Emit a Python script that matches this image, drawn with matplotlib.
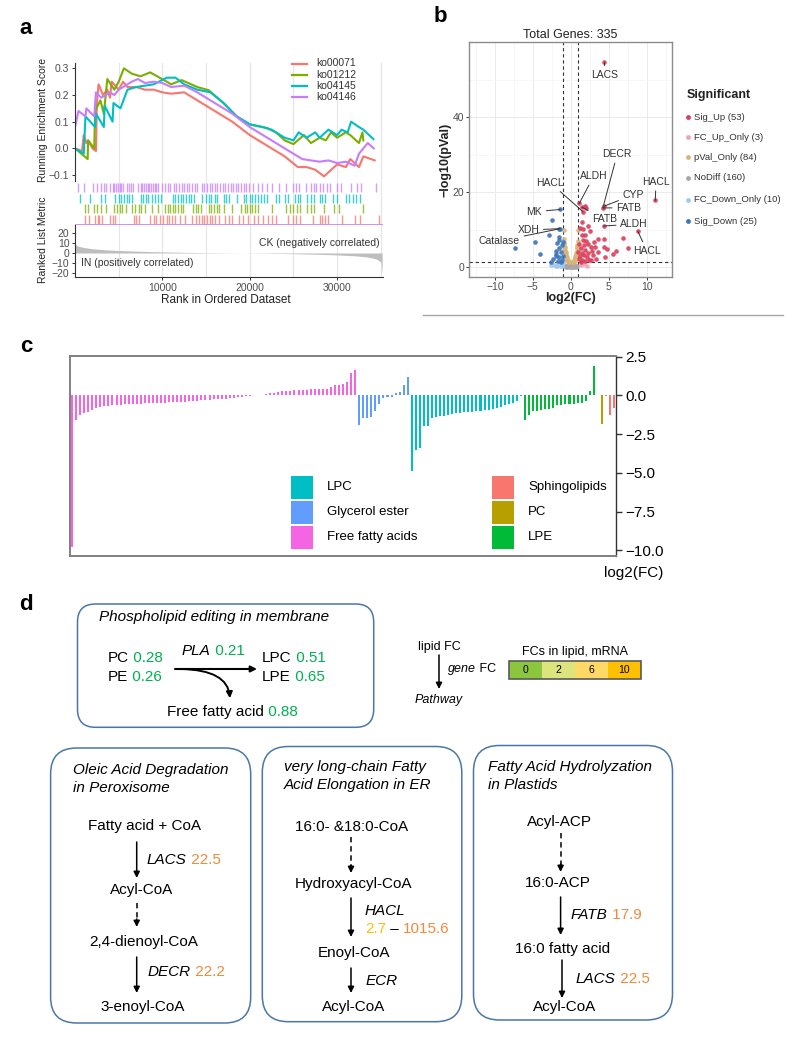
import matplotlib
matplotlib.use("Agg")
import matplotlib.pyplot as plt
from matplotlib.patches import FancyBboxPatch, Rectangle, FancyArrowPatch

plt.rcParams['font.family'] = ['Liberation Sans', 'DejaVu Sans']

# ---------------- panel a : GSEA running scores ----------------
gsea_ids = ['ko00071', 'ko01212', 'ko04145', 'ko04146']
gsea_colors = ['#F8766D', '#7CAE00', '#00BFC4', '#C77CFF']

rank_00071 = [0, 800, 1000, 1300, 1500, 2000, 2400, 2500, 2700, 3200, 3700, 4000, 4200, 5000, 5500,
              6000, 7000, 8000, 9000, 10000, 11000, 12500, 14000, 16000, 18000, 20000, 22000, 24000,
              25500, 26500, 27500, 28500, 29000, 30000, 31000, 31500, 32500, 33000, 34300]
es_00071 = [0.0, -0.01, 0.05, 0.02, 0.03, 0.0, -0.01, 0.17, 0.24, 0.2, 0.22, 0.19, 0.25, 0.22, 0.25,
            0.23, 0.23, 0.22, 0.22, 0.21, 0.205, 0.21, 0.18, 0.14, 0.1, 0.05, 0.01, -0.03,
            -0.07, -0.07, -0.08, -0.105, -0.09, -0.06, -0.07, -0.04, -0.07, -0.03, -0.045]

rank_01212 = [0, 1450, 1500, 2200, 2300, 2900, 3300, 3700, 4500, 5000, 5600, 6500, 7500, 8600, 10500,
              11000, 12200, 14000, 15300, 17000, 18500, 20000, 22000, 23000, 24000, 25000, 26200,
              27000, 28000, 28700, 29300, 30000, 31000, 31500, 32500, 32900, 33000]
es_01212 = [0.0, -0.04, 0.03, 0.0, 0.14, 0.18, 0.13, 0.26, 0.22, 0.25, 0.3, 0.28, 0.27, 0.285, 0.25,
            0.24, 0.256, 0.23, 0.218, 0.17, 0.12, 0.09, 0.076, 0.06, 0.03, 0.016, 0.05,
            0.02, 0.04, 0.03, 0.06, 0.04, 0.06, 0.05, 0.02, 0.06, 0.03]

rank_04145 = [0, 1000, 1200, 2300, 2400, 3300, 3400, 4300, 4400, 5200, 6000, 7000, 9000, 10500,
              11500, 12500, 14000, 15500, 17000, 18500, 20000, 21500, 22500, 24000, 25000, 25600,
              26500, 27500, 28000, 29000, 30000, 30500, 31200, 31600, 32500, 33000, 34150]
es_04145 = [0.0, -0.02, 0.12, 0.08, 0.13, 0.08, 0.16, 0.1, 0.17, 0.15, 0.22, 0.23, 0.24, 0.265,
            0.265, 0.24, 0.22, 0.21, 0.17, 0.12, 0.09, 0.08, 0.07, 0.04, 0.03, 0.06,
            0.04, 0.06, 0.04, 0.07, 0.05, 0.07, 0.06, 0.1, 0.08, 0.07, 0.035]

rank_04146 = [0, 400, 1200, 1300, 2200, 2400, 3000, 4000, 4500, 5000, 6500, 7200, 8000, 9000, 10000,
              11000, 12500, 14000, 16000, 18000, 20000, 22000, 24000, 25000, 26000, 27000, 28000,
              29000, 30000, 31000, 32000, 32500, 33000, 33500, 34200]
es_04146 = [0.08, 0.14, 0.12, 0.15, 0.12, 0.21, 0.19, 0.21, 0.2, 0.22, 0.25, 0.26, 0.245, 0.25, 0.245,
            0.23, 0.235, 0.21, 0.17, 0.13, 0.08, 0.04, 0.0, -0.02, -0.04, -0.045, -0.05,
            -0.045, -0.055, -0.05, -0.065, -0.02, 0.0, 0.02, 0.0]

# gene hit positions (thousands of ranks)
hits_04146 = [0.3, 1.0, 2.1, 2.5, 3.0, 3.3, 3.6, 4.0, 4.3, 4.5, 4.7, 4.9, 5.1, 5.3, 5.5, 6.0, 6.2, 6.4,
              6.6, 7.2, 7.5, 7.7, 7.9, 8.1, 8.3, 8.5, 8.7, 8.9, 9.1, 9.3, 9.5, 10.0, 10.3, 10.6, 10.9,
              11.3, 11.6, 11.9, 12.2, 12.5, 12.8, 13.1, 13.4, 13.7, 14.0, 14.5, 14.8, 15.1, 15.4, 15.7,
              16.0, 16.3, 16.6, 16.9, 17.2, 17.5, 17.8, 18.1, 18.4, 18.7, 19.0, 19.3, 19.6, 19.9, 20.4,
              20.9, 21.4, 22.0, 22.6, 23.4, 24.2, 25.0, 25.3, 25.6, 26.4, 27.0, 27.3, 27.6, 28.0, 28.4,
              28.8, 29.2, 30.0, 30.4, 31.6, 32.3, 32.7, 34.4]
hits_04145 = [0.6, 1.7, 3.0, 3.4, 4.6, 5.0, 5.3, 5.6, 5.9, 6.2, 6.5, 7.5, 7.8, 8.1, 8.4, 8.8, 9.2, 9.5,
              9.8, 11.2, 11.5, 11.8, 12.1, 12.4, 12.7, 13.0, 13.3, 13.6, 14.5, 15.0, 15.3, 15.6, 16.0,
              16.3, 17.0, 17.3, 17.6, 18.5, 19.3, 19.6, 20.0, 20.3, 20.6, 21.0, 21.3, 21.6, 22.0, 23.0,
              23.4, 24.0, 24.4, 25.2, 25.5, 25.8, 26.6, 27.0, 27.3, 28.0, 28.3, 28.6, 29.5, 30.0, 31.0,
              31.4, 31.8, 32.2, 32.6]
hits_01212 = [1.2, 1.5, 2.2, 2.5, 3.0, 3.5, 4.5, 4.8, 5.1, 5.4, 5.8, 6.5, 6.9, 7.3, 7.6, 8.0, 8.8, 9.5,
              10.3, 10.6, 10.9, 11.2, 11.5, 11.8, 12.1, 12.4, 13.5, 13.8, 14.1, 14.4, 15.3, 15.6, 15.9,
              16.2, 16.5, 17.0, 18.0, 19.0, 19.4, 19.7, 20.0, 20.3, 20.6, 21.0, 22.6, 24.2, 24.6, 25.0,
              25.4, 25.8, 26.6, 27.0, 27.3, 28.5, 29.6, 30.2, 33.0]
hits_00071 = [1.1, 1.6, 2.3, 2.6, 2.8, 3.1, 4.0, 4.3, 4.6, 6.7, 7.0, 7.3, 8.6, 9.0, 9.3, 9.7, 10.1, 10.5,
              10.8, 11.1, 11.4, 12.0, 12.6, 13.4, 13.8, 14.2, 14.5, 14.8, 15.1, 15.4, 15.7, 16.0, 16.5,
              17.2, 17.6, 18.0, 18.8, 19.2, 19.8, 20.5, 21.0, 21.5, 22.1, 22.5, 23.0, 24.4, 25.0, 25.3,
              25.7, 27.2, 28.0, 28.3, 28.6, 29.0, 30.6, 32.1, 32.6, 34.8]

metric_rank = [0, 300, 1000, 2000, 3500, 5000, 7500, 10000, 13000, 16000, 19000, 22000, 25000, 28000,
               30000, 32000, 33500, 34500, 35000, 35150]
metric_val = [9, 7, 5.5, 4.2, 3.2, 2.5, 1.7, 1.1, 0.6, 0.25, 0, -0.3, -0.7, -1.3,
              -1.9, -2.8, -4, -6, -9, -20]

# ---------------- panel b : volcano ----------------
sig_up_fc = [4.4, 11.1, 8.8, 4.3, 4.4, 4.2, 1.1, 1.6, 1.45, 1.8, 2.0,
             1.2, 1.4, 1.9, 1.6, 1.1, 1.7, 2.0, 1.3, 1.9, 1.5, 2.3, 1.2, 1.7, 2.1, 1.1, 1.4, 1.8, 2.4, 1.3,
             3.6, 4.4, 6.8, 2.7, 3.2, 4.4, 4.8, 3.6, 5.5, 7.5, 4.5, 2.9, 3.3, 2.5, 3.0, 2.6, 1.6, 2.2,
             6.0, 1.0, 2.8, 1.5, 2.3]
sig_up_p = [54.6, 17.8, 9.6, 11.0, 16.3, 15.8, 17.0, 14.8, 16.0, 16.2, 15.7,
            10.5, 8.7, 8.7, 7.3, 6.2, 5.9, 7.0, 5.0, 4.6, 3.9, 3.9, 3.0, 3.3, 2.8, 2.1, 1.8, 1.6, 2.0, 1.4,
            7.6, 7.6, 7.8, 5.4, 5.4, 5.4, 4.8, 4.1, 3.6, 5.2, 2.7, 3.2, 2.3, 9.6, 6.6, 1.8, 10.2, 6.1,
            4.4, 4.0, 4.2, 12.0, 11.0]
sig_down_fc = [-1.4, -2.5, -1.4, -1.6, -2.9, -7.4, -4.7, -4.1, -1.5, -1.8, -1.2, -1.6, -2.0, -1.3, -1.9,
               -1.1, -1.5, -2.3, -1.2, -1.7, -2.6, -1.3, -2.0, -1.1, -1.6]
sig_down_p = [15.4, 12.5, 10.3, 10.2, 8.7, 5.1, 6.6, 3.5, 7.2, 6.5, 5.8, 5.0, 4.4, 4.0, 3.4,
              3.0, 2.6, 2.2, 2.0, 1.7, 1.5, 1.4, 2.9, 6.8, 8.0]
fc_down_fc = [-1.2, -1.5, -1.8, -2.2, -1.1, -1.4, -2.6, -1.7, -1.3, -2.0]
fc_down_p = [0.4, 0.8, 0.3, 0.6, 1.0, 0.2, 0.5, 1.1, 0.7, 0.2]
fc_up_fc = [1.3, 1.7, 2.1]
fc_up_p = [0.6, 0.9, 0.3]
pval_fc = [-0.95, -0.9, -0.85, -0.8, -0.75, -0.7, -0.65, -0.6, -0.55, -0.5, -0.45, -0.4, -0.35, -0.3,
           -0.9, -0.8, -0.7, -0.6, -0.5, -0.85, -0.95,
           0.95, 0.9, 0.85, 0.8, 0.75, 0.7, 0.65, 0.6, 0.55, 0.5, 0.45, 0.4, 0.35, 0.3,
           0.9, 0.8, 0.7, 0.6, 0.5, 0.85, -0.2, 0.2]
pval_p = [9.9, 7.5, 6.2, 5.3, 4.6, 4.0, 3.5, 3.0, 2.6, 2.3, 2.0, 1.8, 1.6, 1.45,
          5.0, 3.8, 3.1, 2.2, 1.7, 4.3, 6.8,
          9.9, 7.0, 6.0, 5.0, 4.4, 3.8, 3.3, 2.9, 2.5, 2.2, 1.9, 1.7, 1.5, 1.4,
          4.6, 3.6, 2.8, 2.1, 1.6, 5.4, 1.35, 1.35]
nodiff_fc = [-0.6, -0.5, -0.4, -0.3, -0.2, -0.1, 0.0, 0.1, 0.2, 0.3, 0.4, 0.5, 0.6, -0.5, -0.3, -0.1,
             0.1, 0.3, -0.2, 0.0, 0.2, -0.4, 0.4, -0.7, 0.7, -0.15, 0.15, -0.35, 0.35, 0.0, -0.05,
             0.05, -0.25, 0.25, 0.8, -0.8]
nodiff_p = [0.2, 0.4, 0.6, 0.8, 1.0, 1.2, 0.9, 1.1, 0.9, 0.7, 0.5, 0.3, 0.2, 0.1, 0.3, 0.5,
            0.4, 0.2, 0.2, 0.1, 0.3, 0.2, 0.1, 0.1, 0.1, 0.7, 0.6, 0.45, 0.4, 0.3, 0.05,
            0.2, 0.1, 0.05, 0.3, 0.4]
volcano_groups = ['Sig_Up (53)', 'FC_Up_Only (3)', 'pVal_Only (84)', 'NoDiff (160)',
                  'FC_Down_Only (10)', 'Sig_Down (25)']
volcano_colors = ['#DC3D5A', '#F2A3B5', '#D8B47A', '#A6A6A6', '#A3C8EC', '#3D75B9']
gene_names = ['LACS', 'HACL', 'HACL', 'ALDH', 'FATB', 'CYP', 'DECR', 'ALDH', 'HACL', 'FATB',
              'MK', 'XDH', 'Catalase']
gene_fc = [4.4, 11.1, 8.8, 4.3, 4.2, 4.4, 4.2, 1.1, 1.6, 1.45, -1.4, -1.4, -1.6]
gene_p = [54.6, 17.8, 9.6, 11.0, 15.8, 16.3, 15.8, 17.0, 14.8, 16.0, 15.4, 10.3, 10.2]

# ---------------- panel c : lipid log2(FC) ----------------
lipid_classes = ['Free fatty acids', 'Glycerol ester', 'LPC', 'LPE', 'PC', 'Sphingolipids']
lipid_colors = ['#F564E3', '#619CFF', '#00BFC4', '#00BA38', '#B79F00', '#F8766D']
fc_ffa = [-9.8, -1.6, -1.26, -1.11, -1.05, -0.94, -0.79, -0.73, -0.68, -0.66, -0.64, -0.62, -0.6, -0.58,
          -0.58, -0.56, -0.55, -0.54, -0.51, -0.51, -0.5, -0.49, -0.48, -0.47, -0.45, -0.45, -0.44,
          -0.43, -0.41, -0.38, -0.36, -0.34, -0.32, -0.3, -0.28, -0.26, -0.24, -0.22, -0.2, -0.17,
          -0.15, -0.11, -0.09, -0.04, -0.02, 0.01, 0.03, 0.06, 0.1, 0.13, 0.17, 0.23, 0.28, 0.3, 0.32,
          0.34, 0.35, 0.36, 0.38, 0.39, 0.4, 0.42, 0.43, 0.45, 0.53, 0.66, 0.68, 0.75, 0.88, 1.45, 1.62]
fc_glycerol = [-1.92, -1.47, -1.43, -1.39, -1.0, -0.58, -0.15, -0.12, -0.08, 0.17, 0.23, 0.66, 1.18]
fc_lpc = [-4.85, -3.55, -3.4, -2.0, -1.97, -1.47, -1.39, -1.35, -1.33, -1.28, -1.22, -1.16, -1.11, -1.09,
          -1.07, -1.05, -1.03, -1.0, -0.96, -0.92, -0.88, -0.79, -0.73, -0.64, -0.58, -0.51, -0.36, -0.06]
fc_lpe = [-1.58, -1.26, -1.0, -0.98, -0.96, -0.9, -0.85, -0.79, -0.64, -0.62, -0.58, -0.58, -0.53,
          -0.51, -0.49, -0.36, 0.32, 1.92]
fc_pc = [0.03, -1.82]
fc_sphingo = [-0.03, -1.25, -0.8]
legend_order = ['LPC', 'Glycerol ester', 'Free fatty acids', 'Sphingolipids', 'PC', 'LPE']

# ---------------- panel d : fold-change scale ----------------
scale_values = ['0', '2', '6', '10']
scale_colors = ['#8CC63F', '#DCE47E', '#FFD966', '#FFC000']

W, H = 794, 1042
fig = plt.figure(figsize=(W / 100, H / 100), dpi=100)


def px_axes(l, t, r, b):
    return fig.add_axes([l / W, 1 - b / H, (r - l) / W, (b - t) / H])


grey_txt = '#4D4D4D'
MINUS = '\u2212'

# ================= a =================
xmax_rank = 35250
ax_es = px_axes(75, 63, 383, 182)
curves = [(rank_00071, es_00071), (rank_01212, es_01212), (rank_04145, es_04145), (rank_04146, es_04146)]
for (rk, es), col in zip(curves, gsea_colors):
    ax_es.plot(rk, es, color=col, lw=1.5)
ax_es.set_xlim(0, xmax_rank)
ax_es.set_ylim(-0.126, 0.32)
ax_es.set_xticks([])
ax_es.set_yticks([-0.1, 0.0, 0.1, 0.2, 0.3])
ax_es.set_yticklabels([MINUS + '0.1', '0.0', '0.1', '0.2', '0.3'])

ax_hit = px_axes(75, 182, 383, 225)
hit_sets = [hits_00071, hits_01212, hits_04145, hits_04146]
for row, (hs, col) in enumerate(zip(hit_sets, gsea_colors)):
    ax_hit.vlines([h * 1000 for h in hs], row + 0.08, row + 0.92, color=col, lw=1.0, alpha=0.75)
ax_hit.axhline(0, color='#C77CFF', lw=1.2)
ax_hit.set_xlim(0, xmax_rank)
ax_hit.set_ylim(0, 4)
ax_hit.set_xticks([])
ax_hit.set_yticks([])

ax_rk = px_axes(75, 225, 383, 277)
ax_rk.fill_between(metric_rank, 0, metric_val, color='#BEBEBE', lw=0)
ax_rk.set_xlim(0, xmax_rank)
ax_rk.set_ylim(-24, 28)
ax_rk.set_yticks([-20, -10, 0, 10, 20])
ax_rk.set_yticklabels([MINUS + '20', MINUS + '10', '0', '10', '20'])
ax_rk.set_xticks([10000, 20000, 30000])
ax_rk.set_xticklabels(['10000', '20000', '30000'])
ax_rk.text(34900, 10, 'CK (negatively correlated)', ha='right', va='center', fontsize=7.5, color='#333333')
ax_rk.text(700, -10, 'IN (positively correlated)', ha='left', va='center', fontsize=7.5, color='#333333')

for a in (ax_es, ax_hit, ax_rk):
    for xv in range(5000, 35001, 5000):
        a.axvline(xv, color='#E5E5E5', lw=0.8, zorder=0)
    for s in a.spines.values():
        s.set_visible(False)
    a.tick_params(labelsize=7.5, labelcolor=grey_txt, color='#333333', length=2.5, width=0.7, pad=1.5)
for a in (ax_es, ax_rk):
    a.spines['left'].set_visible(True)
    a.spines['left'].set_color('#333333')
ax_rk.spines['bottom'].set_visible(True)
ax_rk.spines['bottom'].set_color('#333333')

# ================= b =================
ax_b = px_axes(469, 42, 672, 277)
ax_b.set_xlim(-13.4, 13.3)
ax_b.set_ylim(-2.6, 60.05)
ax_b.set_xticks([-10, -5, 0, 5, 10])
ax_b.set_xticklabels([MINUS + '10', MINUS + '5', '0', '5', '10'])
ax_b.set_yticks([0, 20, 40])
ax_b.set_xticks([-12.5, -7.5, -2.5, 2.5, 7.5, 12.5], minor=True)
ax_b.set_yticks([10, 30, 50], minor=True)
ax_b.grid(which='major', color='#EBEBEB', lw=0.7)
ax_b.grid(which='minor', color='#F4F4F4', lw=0.5)
ax_b.set_axisbelow(True)
ax_b.tick_params(which='both', labelsize=7.5, labelcolor=grey_txt, color='#333333', length=2.5, width=0.7, pad=1)
ax_b.tick_params(which='minor', length=0)
for s in ax_b.spines.values():
    s.set_color('#8C8C8C')
    s.set_linewidth(1.0)
pts = [(nodiff_fc, nodiff_p, 3), (pval_fc, pval_p, 2), (fc_down_fc, fc_down_p, 4),
       (fc_up_fc, fc_up_p, 1), (sig_down_fc, sig_down_p, 5), (sig_up_fc, sig_up_p, 0)]
for xs, ys, ci in pts:
    ax_b.scatter(xs, ys, s=11, color=volcano_colors[ci], lw=0, alpha=0.9, zorder=3)
for v in (-1, 1):
    ax_b.axvline(v, color='#333333', lw=0.8, ls=(0, (3, 2.5)), zorder=2)
ax_b.axhline(1.3, color='#333333', lw=0.8, ls=(0, (3, 2.5)), zorder=2)
label_at = [(4.5, 51.3), (11.2, 22.8), (10.0, 4.4), (8.3, 11.5), (7.6, 15.9), (8.2, 19.3), (6.1, 30.2),
            (3.0, 24.3), (-2.7, 22.5), (4.4, 12.9), (-4.8, 14.8), (-5.6, 9.9), (-9.4, 7.0)]
for name, gx, gy, lxy in zip(gene_names, gene_fc, gene_p, label_at):
    ax_b.annotate(name, xy=(gx, gy), xytext=lxy, ha='center', va='center', fontsize=7.5,
                  color='#333333', zorder=5,
                  arrowprops=dict(arrowstyle='-', color='#333333', lw=0.7, shrinkA=1, shrinkB=0))

# ================= c =================
ax_c = px_axes(70, 356, 616, 556)
groups = [fc_ffa, fc_glycerol, fc_lpc, fc_lpe, fc_pc, fc_sphingo]
pos = 1
for vals, col in zip(groups, lipid_colors):
    ax_c.bar(range(pos, pos + len(vals)), vals, width=0.5, color=col, lw=0)
    pos += len(vals)
ax_c.set_xlim(0.5, pos - 0.5)
ax_c.set_ylim(-10.37, 2.55)
ax_c.set_xticks([])
ax_c.yaxis.tick_right()
ax_c.set_yticks([2.5, 0, -2.5, -5, -7.5, -10])
ax_c.set_yticklabels(['2.5', '0.0', MINUS + '2.5', MINUS + '5.0', MINUS + '7.5', MINUS + '10.0'])
ax_c.tick_params(labelsize=11, color='#333333', length=4, width=1, pad=3)
for side in ('left', 'top', 'bottom'):
    ax_c.spines[side].set_color('#808080')
    ax_c.spines[side].set_linewidth(1.4)
ax_c.spines['right'].set_color('#333333')
ax_c.spines['right'].set_linewidth(1.0)

# ================= overlay (labels, legends, diagram d) =================
ov = fig.add_axes([0, 0, 1, 1], zorder=10)
ov.set_xlim(0, W)
ov.set_ylim(H, 0)
ov.axis('off')
ov.patch.set_alpha(0)

for lab, x, y in [('a', 26, 29), ('b', 440, 17), ('c', 26, 347), ('d', 26, 605)]:
    ov.text(x, y, lab, fontsize=16, fontweight='bold', ha='center', va='center')

# a labels + legend
ov.text(43, 120, 'Running Enrichment Score', rotation=90, ha='center', va='center', fontsize=7.5, color='#222222')
ov.text(43, 240, 'Ranked List Metric', rotation=90, ha='center', va='center', fontsize=7.5, color='#222222')
ov.text(226, 300, 'Rank in Ordered Dataset', ha='center', va='center', fontsize=8.5, color='#222222')
for i, (name, col) in enumerate(zip(gsea_ids, gsea_colors)):
    y = 63.5 + i * 11.1
    ov.plot([292, 307], [y, y], color=col, lw=1.6)
    ov.text(316, y, name, va='center', ha='left', fontsize=7.5, color='#333333')

# b labels + legend
ov.text(570.5, 35, 'Total Genes: 335', ha='center', va='center', fontsize=9, color='#222222')
ov.text(571, 298, 'log2(FC)', ha='center', va='center', fontsize=9, fontweight='bold', color='#222222')
ov.text(446, 160, MINUS + 'log10(pVal)', rotation=90, ha='center', va='center', fontsize=9,
        fontweight='bold', color='#222222')
ov.text(687, 95, 'Significant', ha='left', va='center', fontsize=9, fontweight='bold', color='#222222')
leg_y = [117, 137, 157, 178, 200, 221]
for name, col, y in zip(volcano_groups, volcano_colors, leg_y):
    ov.scatter([688], [y], s=12, color=col, lw=0)
    ov.text(694, y, name, ha='left', va='center', fontsize=6.8, color='#333333')
ov.plot([423, 783], [315, 315], color='#A6A6A6', lw=1.0)

# c legend
ov.text(634, 573, 'log2(FC)', ha='center', va='center', fontsize=11)
for i, name in enumerate(legend_order):
    col = lipid_colors[lipid_classes.index(name)]
    x0 = 291 if i < 3 else 492
    y0 = 476 + (i % 3) * 25
    ov.add_patch(Rectangle((x0, y0), 22, 22.5, color=col, lw=0))
    ov.text(x0 + 36, y0 + 11, name, ha='left', va='center', fontsize=9.5)

# d diagram
rend = fig.canvas.get_renderer()
GREEN, ORANGE, YELLOW = '#00B050', '#F08A3C', '#FFC000'
EDGE = '#4A77A8'


def seq(x, y, parts, size=11):
    for txt, col, sty in parts:
        t = ov.text(x, y, txt, color=col, fontsize=size, style=sty, ha='left', va='center')
        x += t.get_window_extent(renderer=rend).width


def arrow(x, y0, y1, dashed=False):
    if dashed:
        ov.plot([x, x], [y0, y1 - 7], color='k', lw=1.1, ls=(0, (3.5, 2.5)))
        y0 = y1 - 8
    ov.annotate('', xy=(x, y1), xytext=(x, y0),
                arrowprops=dict(arrowstyle='-|>', color='k', lw=1.1, shrinkA=0, shrinkB=0, mutation_scale=9))


def rbox(l, t, r, b, rad):
    ov.add_patch(FancyBboxPatch((l, t), r - l, b - t, boxstyle='round,pad=0,rounding_size=%d' % rad,
                                fc='none', ec=EDGE, lw=1.1))


rbox(77.5, 604, 373.7, 727.3, 18)
ov.text(99, 617, 'Phospholipid editing in membrane', style='italic', fontsize=11, ha='left', va='center')
seq(108, 658, [('PC', 'k', 'normal'), (' 0.28', GREEN, 'normal')])
seq(108, 677, [('PE', 'k', 'normal'), (' 0.26', GREEN, 'normal')])
seq(182, 651, [('PLA', 'k', 'italic'), (' 0.21', GREEN, 'normal')])
seq(262, 658, [('LPC', 'k', 'normal'), (' 0.51', GREEN, 'normal')])
seq(262, 677, [('LPE', 'k', 'normal'), (' 0.65', GREEN, 'normal')])
seq(167, 712, [('Free fatty acid', 'k', 'normal'), (' 0.88', GREEN, 'normal')])
ov.annotate('', xy=(257, 669), xytext=(175, 669),
            arrowprops=dict(arrowstyle='-|>', color='k', lw=1.5, shrinkA=0, shrinkB=0, mutation_scale=9))
ov.add_patch(FancyArrowPatch((178, 669), (230, 701), connectionstyle='angle3,angleA=0,angleB=90',
                             arrowstyle='-|>', mutation_scale=9, lw=1.4, color='k'))

# key
ov.text(418, 647, 'lipid FC', fontsize=9, ha='left', va='center')
arrow(439, 655, 689)
seq(448, 669, [('gene', 'k', 'italic'), (' FC', 'k', 'normal')], size=9)
ov.text(415, 700, 'Pathway', fontsize=9, style='italic', ha='left', va='center')
ov.text(575, 652, 'FCs in lipid, mRNA', fontsize=9, ha='center', va='center')
for i, (v, col) in enumerate(zip(scale_values, scale_colors)):
    ov.add_patch(Rectangle((509 + i * 33, 661), 33, 18, fc=col, ec='none'))
    ov.text(509 + i * 33 + 16.5, 670, v, fontsize=7.5, ha='center', va='center')
ov.add_patch(Rectangle((509, 661), 132, 18, fc='none', ec='#595959', lw=1.2))

# pathway boxes
rbox(50.6, 748, 250.7, 1023, 26)
rbox(262.3, 746.5, 461.8, 1021.7, 26)
rbox(473.5, 745.5, 672.5, 1020, 26)

ov.text(73.4, 770, 'Oleic Acid Degradation', style='italic', fontsize=11, ha='left', va='center')
ov.text(73.4, 788, 'in Peroxisome', style='italic', fontsize=11, ha='left', va='center')
ov.text(144.5, 826, 'Fatty acid + CoA', fontsize=11, ha='center', va='center')
arrow(136.7, 842, 878)
seq(147, 860, [('LACS', 'k', 'italic'), (' 22.5', ORANGE, 'normal')])
ov.text(142, 890, 'Acyl-CoA', fontsize=11, ha='center', va='center')
arrow(136.7, 903, 927, dashed=True)
ov.text(144, 941.7, '2,4-dienoyl-CoA', fontsize=11, ha='center', va='center')
arrow(136.7, 957, 993)
seq(148, 971.7, [('DECR', 'k', 'italic'), (' 22.2', ORANGE, 'normal')])
ov.text(143, 1007.3, '3-enoyl-CoA', fontsize=11, ha='center', va='center')

ov.text(283.6, 766.7, 'very long-chain Fatty', style='italic', fontsize=11, ha='left', va='center')
ov.text(283.6, 785, 'Acid Elongation in ER', style='italic', fontsize=11, ha='left', va='center')
ov.text(352, 826.7, '16:0- &18:0-CoA', fontsize=11, ha='center', va='center')
arrow(351, 837, 873, dashed=True)
ov.text(353, 884.3, 'Hydroxyacyl-CoA', fontsize=11, ha='center', va='center')
arrow(351, 898, 937)
seq(365, 910.7, [('HACL', 'k', 'italic')])
seq(365, 929.3, [('2.7', YELLOW, 'normal'), (' \u2013 ', 'k', 'normal'), ('1015.6', ORANGE, 'normal')])
ov.text(354, 952.7, 'Enoyl-CoA', fontsize=11, ha='center', va='center')
arrow(351, 968, 993)
seq(366, 980.7, [('ECR', 'k', 'italic')])
ov.text(354, 1007.3, 'Acyl-CoA', fontsize=11, ha='center', va='center')

ov.text(487.7, 766.7, 'Fatty Acid Hydrolyzation', style='italic', fontsize=11, ha='left', va='center')
ov.text(487.7, 785, 'in Plastids', style='italic', fontsize=11, ha='left', va='center')
ov.text(559, 821.7, 'Acyl-ACP', fontsize=11, ha='center', va='center')
arrow(560.6, 833, 872, dashed=True)
ov.text(558, 882.7, '16:0-ACP', fontsize=11, ha='center', va='center')
arrow(560.6, 897, 935)
seq(571, 915, [('FATB', 'k', 'italic'), (' 17.9', ORANGE, 'normal')])
ov.text(563, 949.3, '16:0 fatty acid', fontsize=11, ha='center', va='center')
arrow(562, 960, 998)
seq(576, 979.3, [('LACS', 'k', 'italic'), (' 22.5', ORANGE, 'normal')])
ov.text(565, 1007.3, 'Acyl-CoA', fontsize=11, ha='center', va='center')

fig.savefig('out.png', dpi=100)
